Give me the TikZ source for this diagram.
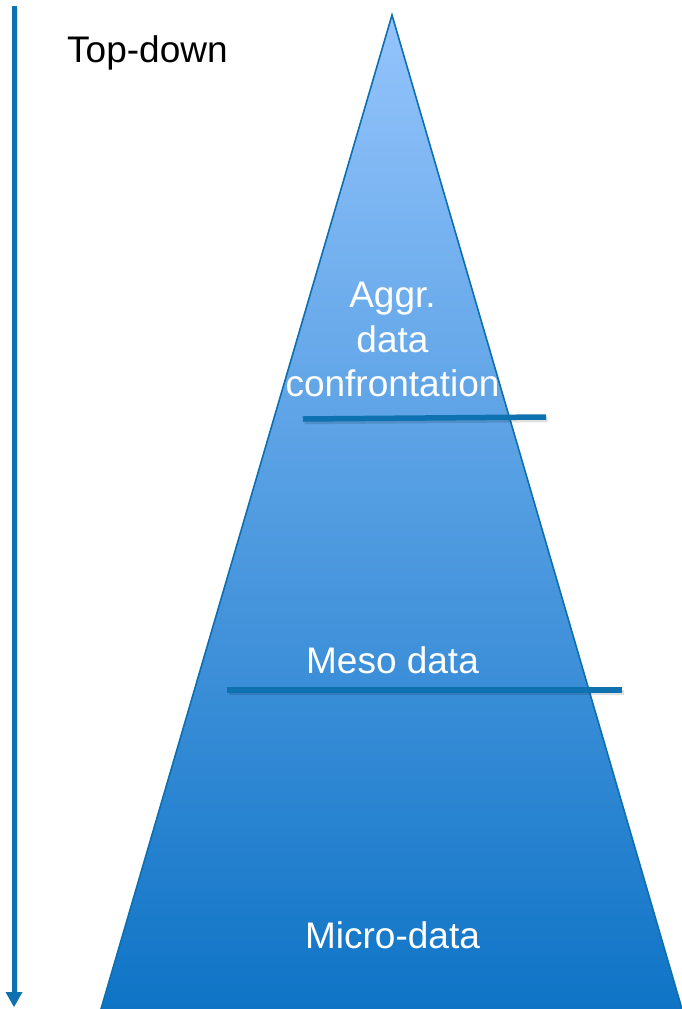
\documentclass[tikz,border=0pt]{standalone}
\usepackage{fontspec}
\setmainfont{Liberation Sans}
\definecolor{edgeblue}{HTML}{0E6FAF}
\definecolor{topblue}{HTML}{94C4FC}
\definecolor{botblue}{HTML}{0F74C6}
\definecolor{linkblue}{HTML}{0E72B0}
\begin{document}
\begin{tikzpicture}[x=1pt,y=-1pt,
  lbl/.style={text=white,inner sep=0pt,font=\fontsize{37}{44.5}\selectfont,align=center},
  levelline/.style={draw=linkblue,line width=5.5pt},
  shadowline/.style={draw=black,opacity=0.12,line width=5.5pt}]
\useasboundingbox (0,0) rectangle (681,1009);
% pyramid
\coordinate (apex) at (392,15);
\coordinate (bl) at (101,1009);
\coordinate (br) at (682,1009);
\shade[top color=topblue,bottom color=botblue] (apex) -- (br) -- (bl) -- cycle;
\draw[edgeblue,line width=1.6pt,line join=miter] (bl) -- (apex) -- (br);
% level lines
\coordinate (l1a) at (303,419);
\coordinate (l1b) at (546,417);
\coordinate (l2a) at (227,690);
\coordinate (l2b) at (622,690);
\draw[shadowline] ([shift={(1.5,2.5)}]l1a) -- ([shift={(1.5,2.5)}]l1b);
\draw[shadowline] ([shift={(1.5,2.5)}]l2a) -- ([shift={(1.5,2.5)}]l2b);
\draw[levelline] (l1a) -- (l1b);
\draw[levelline] (l2a) -- (l2b);
% labels
\node[lbl,anchor=north] (aggr) at (392.5,282) {Aggr.\\data\\confrontation};
\node[lbl,anchor=base] (meso) at (392.5,673) {Meso data};
\node[lbl,anchor=base] (micro) at (392.5,948) {Micro-data};
% top-down arrow
\coordinate (ta) at (14,6);
\coordinate (tb) at (14,992);
\coordinate (tip) at (14,1007);
\draw[black,opacity=0.12,line width=5pt] (15.5,8) -- (15.5,994);
\draw[linkblue,line width=5pt] (ta) -- (tb);
\fill[linkblue] (5.5,992) -- (tip) -- (22.5,992) -- cycle;
\node[anchor=base west,inner sep=0pt,font=\fontsize{37}{44}\selectfont] (td) at (67,62) {Top-down};
\end{tikzpicture}
\end{document}
